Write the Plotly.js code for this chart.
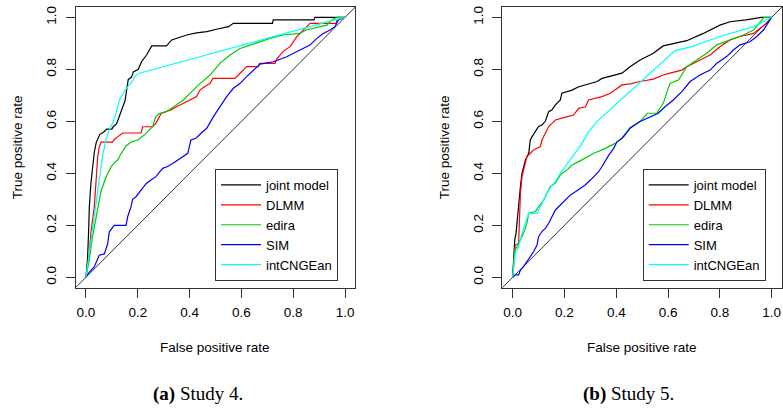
<!DOCTYPE html>
<html>
<head>
<meta charset="utf-8">
<script src="https://cdn.plot.ly/plotly-3.0.1.min.js"></script>
<style>html,body{margin:0;padding:0;background:#fff;}#chart{width:783px;height:413px;}</style>
</head>
<body>
<div id="chart"></div>
<script>
// ---------- Data ----------
var seriesNames = ["joint model", "DLMM", "edira", "SIM", "intCNGEan"];
var seriesColors = ["#000000", "#FF0000", "#00CD00", "#0000FF", "#00FFFF"];
var tickVals = [0, 0.2, 0.4, 0.6, 0.8, 1.0];
var tickText = ["0.0", "0.2", "0.4", "0.6", "0.8", "1.0"];
var xTitle = "False positive rate";
var yTitle = "True positive rate";
var captions = ["(a)", "(b)"];
var captionRest = [" Study 4.", " Study 5."];

// Study 4 (left panel)
var s4_joint_x = [0,0.006,0.01,0.013,0.019,0.026,0.032,0.04,0.045,0.054,0.07,0.08,0.1,0.106,0.118,0.13,0.138,0.151,0.163,0.176,0.183,0.202,0.215,0.234,0.254,0.311,0.331,0.363,0.389,0.427,0.466,0.504,0.55,0.569,0.72,0.723,0.88,0.884,1];
var s4_joint_y = [0,0.07,0.17,0.27,0.36,0.42,0.48,0.52,0.53,0.55,0.56,0.57,0.57,0.58,0.59,0.62,0.64,0.68,0.76,0.77,0.79,0.80,0.83,0.855,0.89,0.89,0.913,0.925,0.932,0.94,0.945,0.954,0.964,0.977,0.977,0.99,0.99,1.0,1];
var s4_dlmm_x = [0,0.006,0.013,0.019,0.032,0.039,0.045,0.051,0.058,0.103,0.109,0.122,0.142,0.212,0.219,0.257,0.27,0.29,0.309,0.33,0.35,0.389,0.427,0.44,0.453,0.479,0.49,0.575,0.595,0.62,0.665,0.67,0.73,0.737,0.762,0.788,0.813,0.838,0.865,0.965,0.97,1];
var s4_dlmm_y = [0,0.04,0.09,0.17,0.27,0.37,0.46,0.5,0.52,0.52,0.53,0.54,0.555,0.555,0.579,0.579,0.592,0.63,0.637,0.645,0.656,0.676,0.695,0.72,0.73,0.746,0.765,0.765,0.785,0.81,0.81,0.823,0.823,0.84,0.87,0.887,0.925,0.951,0.977,0.977,0.99,1];
var s4_edira_x = [0,0.013,0.026,0.035,0.045,0.058,0.077,0.097,0.109,0.122,0.135,0.155,0.174,0.2,0.225,0.245,0.257,0.27,0.283,0.311,0.337,0.376,0.414,0.44,0.479,0.517,0.556,0.595,0.633,0.672,0.71,0.762,0.826,0.85,0.903,0.93,0.949,0.968,1];
var s4_edira_y = [0,0.07,0.16,0.21,0.27,0.33,0.385,0.425,0.44,0.45,0.475,0.505,0.52,0.528,0.547,0.567,0.579,0.618,0.63,0.637,0.656,0.682,0.72,0.745,0.778,0.823,0.855,0.88,0.893,0.906,0.919,0.932,0.938,0.951,0.964,0.97,0.99,1,1];
var s4_sim_x = [0,0.013,0.032,0.051,0.071,0.084,0.09,0.103,0.109,0.155,0.161,0.174,0.18,0.193,0.212,0.232,0.251,0.27,0.296,0.315,0.335,0.354,0.373,0.393,0.405,0.425,0.444,0.466,0.492,0.517,0.543,0.569,0.595,0.62,0.646,0.672,0.723,0.775,0.826,0.865,0.891,0.916,0.942,0.961,0.974,1];
var s4_sim_y = [0,0.02,0.04,0.085,0.09,0.13,0.175,0.195,0.2,0.2,0.233,0.272,0.3,0.31,0.336,0.36,0.374,0.387,0.419,0.426,0.438,0.451,0.464,0.477,0.528,0.535,0.554,0.573,0.618,0.656,0.695,0.727,0.746,0.772,0.797,0.82,0.829,0.848,0.874,0.893,0.919,0.938,0.951,0.964,0.99,1];
var s4_int_x = [0,0.013,0.026,0.039,0.051,0.064,0.077,0.09,0.103,0.116,0.129,0.148,0.167,0.18,0.19,0.206,0.96,1];
var s4_int_y = [0,0.09,0.195,0.285,0.374,0.464,0.528,0.567,0.592,0.631,0.682,0.715,0.74,0.755,0.775,0.785,0.99,1];

// Study 5 (right panel)
var s5_joint_x = [0,0.004,0.008,0.013,0.017,0.023,0.03,0.036,0.049,0.062,0.068,0.075,0.088,0.1,0.113,0.126,0.139,0.152,0.165,0.184,0.19,0.21,0.229,0.255,0.281,0.3,0.326,0.345,0.371,0.396,0.422,0.453,0.492,0.543,0.581,0.672,0.736,0.8,0.839,0.9,0.96,1];
var s5_joint_y = [0,0.067,0.144,0.169,0.22,0.27,0.35,0.4,0.45,0.477,0.528,0.541,0.56,0.58,0.586,0.6,0.637,0.644,0.663,0.682,0.708,0.714,0.72,0.733,0.74,0.746,0.753,0.765,0.772,0.778,0.785,0.81,0.836,0.862,0.89,0.91,0.938,0.97,0.983,0.99,1,1];
var s5_dlmm_x = [0,0.004,0.01,0.023,0.026,0.03,0.036,0.046,0.055,0.068,0.081,0.107,0.113,0.126,0.139,0.152,0.165,0.19,0.216,0.235,0.255,0.281,0.293,0.313,0.345,0.377,0.403,0.422,0.454,0.492,0.543,0.581,0.607,0.653,0.672,0.71,0.762,0.8,0.839,0.878,0.93,0.955,0.981,1];
var s5_dlmm_y = [0,0.067,0.124,0.131,0.22,0.323,0.387,0.426,0.464,0.477,0.49,0.503,0.528,0.554,0.58,0.592,0.605,0.612,0.618,0.624,0.65,0.656,0.682,0.688,0.695,0.708,0.727,0.74,0.744,0.753,0.762,0.778,0.785,0.797,0.81,0.829,0.855,0.887,0.913,0.926,0.938,0.958,0.977,1];
var s5_edira_x = [0,0.008,0.017,0.03,0.042,0.055,0.062,0.088,0.1,0.12,0.133,0.145,0.165,0.184,0.21,0.229,0.255,0.287,0.313,0.345,0.371,0.396,0.429,0.453,0.492,0.52,0.556,0.581,0.607,0.64,0.672,0.71,0.749,0.788,0.839,0.89,0.93,0.955,0.97,1];
var s5_edira_y = [0,0.105,0.118,0.144,0.169,0.208,0.246,0.253,0.272,0.297,0.323,0.349,0.362,0.394,0.413,0.432,0.445,0.464,0.477,0.49,0.503,0.515,0.54,0.575,0.6,0.631,0.631,0.669,0.746,0.759,0.81,0.836,0.862,0.894,0.913,0.932,0.951,0.983,1,1];
var s5_sim_x = [0,0.01,0.023,0.03,0.042,0.055,0.068,0.081,0.094,0.1,0.113,0.126,0.139,0.152,0.165,0.184,0.203,0.223,0.242,0.261,0.28,0.3,0.313,0.332,0.345,0.358,0.371,0.39,0.403,0.422,0.453,0.492,0.53,0.562,0.588,0.62,0.653,0.685,0.723,0.762,0.788,0.826,0.852,0.878,0.916,0.942,0.968,1];
var s5_sim_y = [0,0.009,0.009,0.028,0.041,0.06,0.08,0.099,0.124,0.156,0.176,0.188,0.208,0.233,0.259,0.278,0.297,0.317,0.329,0.342,0.355,0.374,0.387,0.406,0.426,0.451,0.47,0.496,0.522,0.535,0.573,0.599,0.618,0.631,0.656,0.682,0.714,0.753,0.778,0.797,0.823,0.849,0.874,0.894,0.906,0.926,0.951,1];
var s5_int_x = [0,0.01,0.023,0.036,0.049,0.062,0.094,0.107,0.12,0.133,0.152,0.165,0.184,0.203,0.229,0.268,0.293,0.326,0.627,0.691,0.8,0.93,1];
var s5_int_y = [0,0.092,0.118,0.169,0.208,0.246,0.246,0.272,0.297,0.323,0.355,0.368,0.4,0.426,0.464,0.515,0.56,0.6,0.872,0.887,0.926,0.964,1];

// ---------- Build traces ----------
var panels = [
  {xs: [s4_joint_x, s4_dlmm_x, s4_edira_x, s4_sim_x, s4_int_x], ys: [s4_joint_y, s4_dlmm_y, s4_edira_y, s4_sim_y, s4_int_y], xa: "x", ya: "y", lg: "legend"},
  {xs: [s5_joint_x, s5_dlmm_x, s5_edira_x, s5_sim_x, s5_int_x], ys: [s5_joint_y, s5_dlmm_y, s5_edira_y, s5_sim_y, s5_int_y], xa: "x2", ya: "y2", lg: "legend2"}
];
var traces = [];
panels.forEach(function (p) {
  for (var i = 0; i < seriesNames.length; i++) {
    traces.push({
      type: "scatter", mode: "lines", name: seriesNames[i],
      x: p.xs[i], y: p.ys[i], xaxis: p.xa, yaxis: p.ya, legend: p.lg,
      line: {color: seriesColors[i], width: 1.2},
      hoverinfo: "skip"
    });
  }
});

var FONT = "Liberation Sans, Arial, Helvetica, sans-serif";
function xAxis(domain, anchor) {
  return {
    domain: domain, anchor: anchor, range: [-0.04, 1.04], autorange: false,
    tickmode: "array", tickvals: tickVals, ticktext: tickText,
    ticks: "outside", ticklen: 9, tickwidth: 1, tickcolor: "#333",
    showline: true, mirror: true, linecolor: "#333", linewidth: 1,
    showgrid: false, zeroline: false, ticklabelstandoff: 3,
    tickfont: {family: FONT, size: 13.5, color: "#000"},
    automargin: false
  };
}
function yAxis(domain, anchor) {
  return {
    domain: domain, anchor: anchor, range: [-0.04, 1.04], autorange: false,
    tickmode: "array", tickvals: tickVals, ticktext: tickText, tickangle: -90,
    ticks: "outside", ticklen: 9, tickwidth: 1, tickcolor: "#333",
    showline: true, mirror: true, linecolor: "#333", linewidth: 1,
    showgrid: false, zeroline: false, ticklabelstandoff: 4,
    tickfont: {family: FONT, size: 13.5, color: "#000"},
    title: {text: yTitle, standoff: 18, font: {family: FONT, size: 13.5, color: "#000"}},
    automargin: false
  };
}
function legendBox(x, y) {
  return {
    x: x, y: y, xref: "paper", yref: "paper", xanchor: "left", yanchor: "top",
    bgcolor: "#fff", bordercolor: "#333", borderwidth: 1,
    font: {family: FONT, size: 13, color: "#000"}, itemwidth: 40,
    tracegroupgap: 0, itemclick: false, itemdoubleclick: false
  };
}

var xDom1 = [0.09655, 0.45389], xDom2 = [0.64151, 0.99885];
var yDom = [0.3034, 0.9833];
var serif = "Liberation Serif, Times New Roman, serif";
var layout = {
  width: 783, height: 413,
  margin: {l: 0, r: 0, t: 0, b: 0},
  paper_bgcolor: "#fff", plot_bgcolor: "#fff",
  showlegend: true,
  xaxis: xAxis(xDom1, "y"),
  yaxis: yAxis(yDom, "x"),
  xaxis2: xAxis(xDom2, "y2"),
  yaxis2: yAxis(yDom, "x2"),
  legend: legendBox(215 / 783, 1 - 169 / 413),
  legend2: legendBox(642.7 / 783, 1 - 169 / 413),
  shapes: [
    {type: "line", xref: "x domain", yref: "y domain", x0: 0, y0: 0, x1: 1, y1: 1, line: {color: "#333", width: 1}, layer: "below"},
    {type: "line", xref: "x2 domain", yref: "y2 domain", x0: 0, y0: 0, x1: 1, y1: 1, line: {color: "#333", width: 1}, layer: "below"}
  ],
  annotations: [
    {xref: "x domain", yref: "paper", x: 0.5, y: 1 - 347 / 413, xanchor: "center", yanchor: "middle", showarrow: false,
     text: xTitle, font: {family: FONT, size: 13.5, color: "#000"}},
    {xref: "x2 domain", yref: "paper", x: 0.5, y: 1 - 347 / 413, xanchor: "center", yanchor: "middle", showarrow: false,
     text: xTitle, font: {family: FONT, size: 13.5, color: "#000"}},
    {xref: "paper", yref: "paper", x: 197.5 / 783, y: 1 - 394 / 413, xanchor: "center", yanchor: "middle", showarrow: false,
     text: "<b>" + captions[0] + "</b>" + captionRest[0], font: {family: serif, size: 19, color: "#000"}},
    {xref: "paper", yref: "paper", x: 628 / 783, y: 1 - 394 / 413, xanchor: "center", yanchor: "middle", showarrow: false,
     text: "<b>" + captions[1] + "</b>" + captionRest[1], font: {family: serif, size: 19, color: "#000"}}
  ]
};

Plotly.newPlot("chart", traces, layout, {staticPlot: true, displayModeBar: false});
</script>
</body>
</html>
